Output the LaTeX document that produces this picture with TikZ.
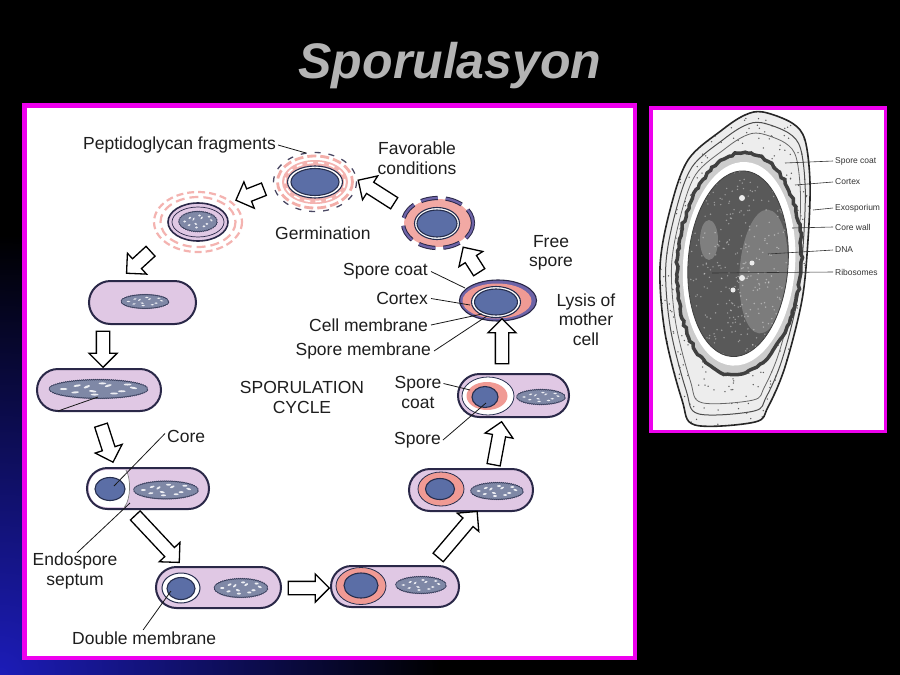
\documentclass[tikz,border=0pt]{standalone}
\usepackage{fontspec}
\setmainfont{Liberation Sans}
\usetikzlibrary{shapes.misc,shapes.geometric,shapes.arrows,calc,decorations.pathmorphing}
\definecolor{mag}{HTML}{EE00EE}
\definecolor{bgblue}{HTML}{1C1CB8}
\definecolor{lilac}{HTML}{E0C8E4}
\definecolor{cellline}{HTML}{2A2848}
\definecolor{coreblue}{HTML}{5B6EA6}
\definecolor{coreline}{HTML}{262E4E}
\definecolor{pinkc}{HTML}{F09A94}
\definecolor{pinkl}{HTML}{F4B3B0}
\definecolor{coatp}{HTML}{6E64A8}
\definecolor{nucfill}{HTML}{7F88A6}
\definecolor{nucline}{HTML}{3A405E}
\definecolor{txt}{HTML}{1E1E1E}
\definecolor{ttl}{HTML}{B4B4B4}
\tikzset{
  nuc/.pic={
    \path[fill=nucfill, draw=nucline, line width=0.7, decorate, decoration={bumps, segment length=4, amplitude=0.8}] (0,0) ellipse [x radius=25, y radius=8];
    \foreach \a/\b/\r in {-18/0/0, -11/-3/20, -3/2/-15, 5/-3/30, 12/2/0, 18/-1/-20, -12/3/10, 2/-5/0, 8/4/0, -6/-2/40, 15/-4/0, -2/5/0}{
      \fill[white!85!nucfill, rotate around={\r:(\a,\b)}] (\a,\b) ellipse [x radius=2, y radius=0.9];
    }
  }
}
\newcommand\blkarrow[2]{\path let \p1=($(#2)-(#1)$), \n1={veclen(\x1,\y1)} in (#1) -- (#2) node[blk, midway, minimum height=\n1] {};}
\begin{document}
\begin{tikzpicture}[x=1pt,y=-1pt,
  panel/.style={draw=mag, fill=white, inner sep=0, outer sep=0},
  cell/.style={rounded rectangle, fill=lilac, draw=cellline, line width=2, inner sep=0},
  lab/.style={font=\fontsize{17.5}{19.5}\selectfont, text=txt, inner sep=0, align=center},
  mlab/.style={font=\fontsize{8.5}{10}\selectfont, text=black!80, inner sep=0, anchor=west},
  lead/.style={draw=black!90, line width=0.8},
  mlead/.style={draw=black!80, line width=0.6},
  blk/.style={single arrow, draw=black, fill=white, line width=1.3, inner xsep=0, inner ysep=6,
    single arrow head extend=7.5, single arrow head indent=0, minimum width=0,
    sloped, allow upside down, anchor=center},
  ell/.style={ellipse, inner sep=0}
]
\useasboundingbox (0,0) rectangle (900,675);
\fill[black] (0,0) rectangle (900,675);
\begin{scope}
  \clip (0,0) rectangle (900,675);
  \shade[inner color=bgblue, outer color=black] (0,675) circle [radius=440];
\end{scope}

% title
\node[font=\fontsize{50}{60}\selectfont\bfseries\itshape, text=ttl, anchor=base, inner sep=0] (title) at (450,78) {Sporulasyon};

% panels
\node[panel, line width=4.5, minimum width=610.5, minimum height=552.5] (P1) at (329.5,381.5) {};
\node[panel, line width=3.5, minimum width=234.5, minimum height=323.5] (P2) at (768,269.5) {};

% ---------- germinated cell ----------
\draw[pinkl, line width=2.2, dash pattern=on 7 off 4] (198,222) ellipse [x radius=44, y radius=30];
\draw[pinkl, line width=2.2, dash pattern=on 9 off 5] (198,222) ellipse [x radius=37.5, y radius=25];
\node[ell, fill=lilac, draw=cellline, line width=1.6, minimum width=60, minimum height=38] (gc) at (198,222) {};
\draw[cellline, line width=0.7] (198,222) ellipse [x radius=26, y radius=15];
\pic[xscale=0.74, yscale=1.2] at (198,221.5) {nuc};

% ---------- germination spore ----------
\fill[pinkl] (315,182) ellipse [x radius=33, y radius=22];
\draw[white, line width=1.6, dash pattern=on 6 off 5] (315,182) ellipse [x radius=30, y radius=19.5];
\draw[pinkc!80, line width=2.8, dash pattern=on 9 off 4] (315,182) ellipse [x radius=37.5, y radius=26];
\draw[cellline!85, line width=1.3, dash pattern=on 6 off 8] (315,182) ellipse [x radius=41.5, y radius=29.5];
\node[ell, fill=white, draw=coreline, line width=1.1, minimum width=55, minimum height=32] (gs) at (315,182) {};
\draw[fill=coreblue, draw=coreline, line width=1.1] (315,182) ellipse [x radius=24, y radius=13.5];

% ---------- spore with broken coat ----------
\node[ell, fill=pinkc!85, minimum width=68, minimum height=48] (ws) at (438,223) {};
\draw[cellline, line width=4.2, dash pattern=on 17 off 8] (438,223) ellipse [x radius=35, y radius=25];
\draw[coatp, line width=2.2, dash pattern=on 17 off 8] (438,223) ellipse [x radius=35, y radius=25];
\draw[fill=white, draw=coreline, line width=1.1] (437,223.5) ellipse [x radius=22.5, y radius=16];
\draw[fill=coreblue, draw=coreline, line width=1.1] (437,223.5) ellipse [x radius=20, y radius=13.5];

% ---------- free spore ----------
\node[ell, fill=coatp, draw=cellline, line width=1.1, minimum width=77, minimum height=41] (fs) at (498,300.5) {};
\fill[pinkc] (497,301) ellipse [x radius=34.5, y radius=17.5];
\draw[fill=white, draw=coreline, line width=1.1] (496,302) ellipse [x radius=24.5, y radius=15.5];
\draw[fill=coreblue, draw=coreline, line width=1.1] (496,302) ellipse [x radius=21.5, y radius=13];

% ---------- cells ----------
\node[cell, minimum width=107, minimum height=43] (cA) at (142.5,302.5) {};
\pic[xscale=0.92, yscale=0.81] at (145,301.5) {nuc};

\node[cell, minimum width=124, minimum height=42] (cB) at (99,390) {};
\pic[xscale=1.94, yscale=1.12] at (98.5,389) {nuc};

\node[cell, minimum width=122, minimum height=41] (cC) at (148,488.5) {};
\fill[white] (126,470) -- (107,470) .. controls (96,470) and (89,478) .. (89,488.5) .. controls (89,499) and (96,507) .. (107,507) -- (124.5,507) .. controls (131,499) and (131,478) .. (126,470) -- cycle;
\draw[gray, line width=0.7] (126,470) .. controls (131,478) and (131,499) .. (124.5,507);
\draw[fill=coreblue, draw=coreline, line width=1.1] (110,489) ellipse [x radius=15, y radius=11.5];
\pic[xscale=1.26, yscale=1.06] at (166,490) {nuc};

\node[cell, minimum width=125, minimum height=41] (cD) at (218.5,587.5) {};
\draw[fill=white, draw=coreline, line width=1] (181,588) ellipse [x radius=19, y radius=15];
\draw[fill=coreblue, draw=coreline, line width=1.1] (181,588.5) ellipse [x radius=14, y radius=11];
\pic[xscale=1.04, yscale=1.12] at (241,588) {nuc};

\node[cell, minimum width=128, minimum height=41] (cE) at (395,586.5) {};
\draw[fill=pinkc, draw=coreline, line width=0.8] (361,586) ellipse [x radius=25, y radius=18.5];
\draw[fill=coreblue, draw=coreline, line width=1.1] (361,585.5) ellipse [x radius=17, y radius=12.5];
\pic[xscale=0.98, yscale=1] at (421,585) {nuc};

\node[cell, minimum width=124, minimum height=42] (cF) at (471,490) {};
\draw[fill=pinkc, draw=coreline, line width=0.8] (441,489) ellipse [x radius=23, y radius=17];
\draw[fill=coreblue, draw=coreline, line width=1.1] (440,489) ellipse [x radius=14.5, y radius=10.5];
\pic[xscale=1.02, yscale=1] at (497,491) {nuc};

\node[cell, minimum width=111, minimum height=43] (cG) at (513.5,395.5) {};
\draw[fill=white, draw=coreline, line width=0.8] (488,396) ellipse [x radius=26, y radius=19];
\fill[pinkc] (487,396) ellipse [x radius=20.5, y radius=14];
\draw[fill=coreblue, draw=coreline, line width=1.1] (485,397) ellipse [x radius=13, y radius=10.5];
\pic[xscale=0.94, yscale=0.88] at (541,397) {nuc};

% ---------- block arrows ----------
\coordinate (a1t) at (267,188);  \coordinate (a1h) at (239,199);
\coordinate (a2t) at (153,249);  \coordinate (a2h) at (129,271);
\coordinate (a3t) at (103,328);  \coordinate (a3h) at (103,364);
\coordinate (a4t) at (100,422);  \coordinate (a4h) at (112,459);
\coordinate (a5t) at (133,513);  \coordinate (a5h) at (177,560);
\coordinate (a6t) at (285,588);  \coordinate (a6h) at (326,588);
\coordinate (a7t) at (436,560);  \coordinate (a7h) at (475,514);
\coordinate (a8t) at (493,468);  \coordinate (a8h) at (501,425);
\coordinate (a9t) at (502,367);  \coordinate (a9h) at (502,322);
\coordinate (a10t) at (481,275); \coordinate (a10h) at (465,250);
\coordinate (a11t) at (397,205); \coordinate (a11h) at (361,182);
\blkarrow{a1t}{a1h}
\blkarrow{a2t}{a2h}
\blkarrow{a3t}{a3h}
\blkarrow{a4t}{a4h}
\blkarrow{a5t}{a5h}
\blkarrow{a6t}{a6h}
\blkarrow{a7t}{a7h}
\blkarrow{a8t}{a8h}
\blkarrow{a9t}{a9h}
\blkarrow{a10t}{a10h}
\blkarrow{a11t}{a11h}

% ---------- labels ----------
\node[lab, anchor=west] (t1) at (83,145) {Peptidoglycan fragments};
\node[lab] (t2) at (417,158) {Favorable\\conditions};
\node[lab, anchor=west] (t3) at (275,233.5) {Germination};
\node[lab] (t4) at (551,253) {Free\\spore};
\node[lab, anchor=east] (t5) at (428,271.5) {Spore coat};
\node[lab, anchor=east] (t6) at (428,298.5) {Cortex};
\node[lab, anchor=east] (t7) at (428,325) {Cell membrane};
\node[lab, anchor=east] (t8) at (431,351) {Spore membrane};
\node[lab] (t9) at (586,319.5) {Lysis of\\mother\\cell};
\node[lab] (t10) at (302,397.5) {SPORULATION\\CYCLE};
\node[lab] (t11) at (418,392.5) {Spore\\coat};
\node[lab, anchor=east] (t12) at (441,440) {Spore};
\node[lab, anchor=west] (t13) at (167,436.5) {Core};
\node[lab] (t14) at (75,571) {Endospore\\septum};
\node[lab, anchor=west] (t15) at (72,638.5) {Double membrane};

% ---------- leader lines ----------
\coordinate (e1) at (306,153);
\coordinate (e5) at (465,288);
\coordinate (e6) at (470,305);
\coordinate (e7) at (482,314);
\coordinate (e8) at (487,316);
\coordinate (e11) at (470,390);
\coordinate (e12) at (486,403);
\coordinate (e13) at (114,486);
\coordinate (e14) at (130,503);
\coordinate (e15) at (171,591);
\coordinate (bl1) at (58,411);
\coordinate (bl2) at (98,397);
\draw[lead] ([xshift=2]t1.east) -- (e1);
\draw[lead] ([xshift=3]t5.east) -- (e5);
\draw[lead] ([xshift=3]t6.east) -- (e6);
\draw[lead] ([xshift=3]t7.east) -- (e7);
\draw[lead] ([xshift=3]t8.east) -- (e8);
\draw[lead] ([xshift=2,yshift=9]t11.east) -- (e11);
\draw[lead] ([xshift=2]t12.east) -- (e12);
\draw[lead] ([xshift=-2,yshift=3]t13.west) -- (e13);
\draw[lead] ([xshift=2]t14.north) -- (e14);
\draw[lead] ([xshift=-1,yshift=2]t15.north) -- (e15);
\draw[lead] (bl1) -- (bl2);

% ---------- micrograph ----------
\begin{scope}[shift={(742,265)}]
  \fill[gray!14] plot[smooth cycle, tension=0.55] coordinates {(21,-153) (50,-142) (63,-125) (68,-82) (66,-25) (60,35) (43,102) (26,142) (13,157) (-47,160) (-60,135) (-77,68) (-82,2) (-72,-55) (-54,-105) (-20,-135) (3,-150)};
  \begin{scope}
    \clip plot[smooth cycle, tension=0.55] coordinates {(21,-153) (50,-142) (63,-125) (68,-82) (66,-25) (60,35) (43,102) (26,142) (13,157) (-47,160) (-60,135) (-77,68) (-82,2) (-72,-55) (-54,-105) (-20,-135) (3,-150)};
    \pgfmathsetseed{11}
    \foreach \i in {1,...,600}{\fill[black!65] ({rand*85},{rand*165}) circle [radius=0.75];}
  \end{scope}
  \draw[black!85, line width=1.6] plot[smooth cycle, tension=0.55] coordinates {(21,-153) (50,-142) (63,-125) (68,-82) (66,-25) (60,35) (43,102) (26,142) (13,157) (-47,160) (-60,135) (-77,68) (-82,2) (-72,-55) (-54,-105) (-20,-135) (3,-150)};
  \draw[black!70, line width=1, scale=0.93] plot[smooth cycle, tension=0.55] coordinates {(21,-153) (50,-142) (63,-125) (68,-82) (66,-25) (60,35) (43,102) (26,142) (13,157) (-47,160) (-60,135) (-77,68) (-82,2) (-72,-55) (-54,-105) (-20,-135) (3,-150)};
  \draw[black!60, line width=0.8, scale=0.86] plot[smooth cycle, tension=0.55] coordinates {(21,-153) (50,-142) (63,-125) (68,-82) (66,-25) (60,35) (43,102) (26,142) (13,157) (-47,160) (-60,135) (-77,68) (-82,2) (-72,-55) (-54,-105) (-20,-135) (3,-150)};
  \draw[black!75, line width=3.5, fill=gray!40, rotate=-4, decorate, decoration={random steps, segment length=4, amplitude=1.2}] (-3,-1) ellipse [x radius=62, y radius=111];
  \fill[white, rotate=-4] (-3,-1) ellipse [x radius=56, y radius=102];
  \fill[black!65, rotate=-4] (-4,-1) ellipse [x radius=50, y radius=93];
  \begin{scope}
    \clip[rotate=-4] (-4,-1) ellipse [x radius=50, y radius=93];
    \fill[black!45, opacity=0.7, rotate=-4] (22,5) ellipse [x radius=24, y radius=62];
    \fill[black!40, opacity=0.6] (-33,-25) ellipse [x radius=9, y radius=20];
    \pgfmathsetseed{5}
    \foreach \i in {1,...,400}{\fill[white, opacity=0.4] ({rand*55},{rand*95}) circle [radius=0.8];}
    \fill[gray!15] (0,-67) circle [radius=3];
    \fill[gray!15] (10,-2) circle [radius=2.5];
    \fill[gray!15] (0,13) circle [radius=3];
    \fill[gray!15] (-9,25) circle [radius=2.5];
  \end{scope}
  \draw[black!75, line width=0.8, rotate=-4] (-4,-1) ellipse [x radius=50, y radius=93];
\end{scope}

\node[mlab] (m1) at (835,161) {Spore coat};
\node[mlab] (m2) at (835,182) {Cortex};
\node[mlab] (m3) at (835,208) {Exosporium};
\node[mlab] (m4) at (835,227) {Core wall};
\node[mlab] (m5) at (835,250) {DNA};
\node[mlab] (m6) at (835,272) {Ribosomes};
\coordinate (q1) at (785,163);
\coordinate (q2) at (795,185);
\coordinate (q3) at (813,210);
\coordinate (q4) at (792,228);
\coordinate (q5) at (768,254);
\coordinate (q6) at (712,273);
\draw[mlead] ([xshift=-2]m1.west) -- (q1);
\draw[mlead] ([xshift=-2]m2.west) -- (q2);
\draw[mlead] ([xshift=-2]m3.west) -- (q3);
\draw[mlead] ([xshift=-2]m4.west) -- (q4);
\draw[mlead] ([xshift=-2]m5.west) -- (q5);
\draw[mlead] ([xshift=-2]m6.west) -- (q6);
\end{tikzpicture}
\end{document}
